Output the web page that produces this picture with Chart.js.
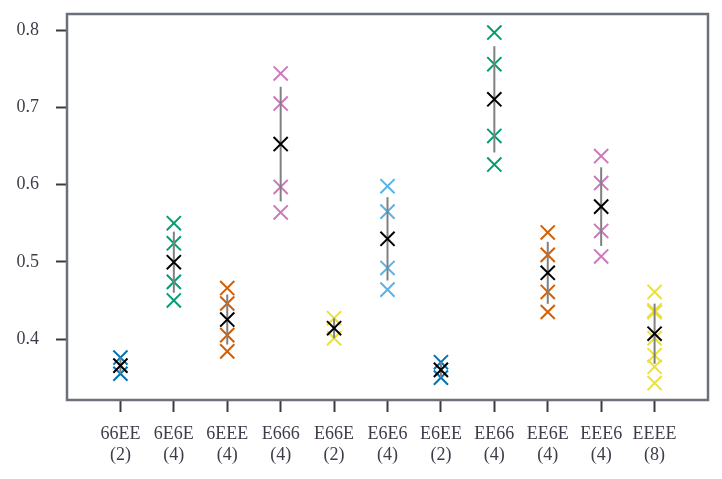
<!DOCTYPE html>
<html>
<head>
<meta charset="utf-8">
<script src="https://cdn.jsdelivr.net/npm/chart.js@4"></script>
<style>
  body { margin: 0; background: #fff; }
  #wrap { width: 722px; height: 479px; }
</style>
</head>
<body>
<div id="wrap"><canvas id="chart" width="722" height="479"></canvas></div>
<script>
const categories = ["66EE", "6E6E", "6EEE", "E666", "E66E", "E6E6", "E6EE", "EE66", "EE6E", "EEE6", "EEEE"];

const v66EE = [0.376, 0.355];
const v6E6E = [0.550, 0.524, 0.474, 0.450];
const v6EEE = [0.466, 0.446, 0.405, 0.384];
const vE666 = [0.744, 0.705, 0.597, 0.564];
const vE66E = [0.427, 0.401];
const vE6E6 = [0.598, 0.565, 0.492, 0.464];
const vE6EE = [0.370, 0.350];
const vEE66 = [0.797, 0.756, 0.663, 0.626];
const vEE6E = [0.538, 0.509, 0.461, 0.435];
const vEEE6 = [0.637, 0.602, 0.540, 0.507];
const vEEEE = [0.461, 0.437, 0.435, 0.435, 0.401, 0.379, 0.364, 0.343];

const yTicks = [0.4, 0.5, 0.6, 0.7, 0.8];

const groups = [v66EE, v6E6E, v6EEE, vE666, vE66E, vE6E6, vE6EE, vEE66, vEE6E, vEEE6, vEEEE];
const colors = ["#0173b2", "#029e73", "#d55e00", "#cc78bc", "#ece133", "#56b4e9",
                "#0173b2", "#029e73", "#d55e00", "#cc78bc", "#ece133"];

const mean = (a) => a.reduce((s, v) => s + v, 0) / a.length;
const std = (a) => {
  const m = mean(a);
  return Math.sqrt(a.reduce((s, v) => s + (v - m) * (v - m), 0) / a.length);
};

const textColor = "#3d3d4a";
const font = { family: "'Liberation Serif', 'Times New Roman', serif", size: 18, lineHeight: 1.17 };

const datasets = [];

// individual runs
groups.forEach((g, i) => {
  datasets.push({
    data: g.map((v) => ({ x: i, y: v })),
    pointStyle: "crossRot",
    pointRadius: 10,
    pointBorderWidth: 2,
    borderColor: colors[i],
    backgroundColor: colors[i],
    order: 3,
  });
});

// error bars (mean +/- std)
groups.forEach((g, i) => {
  const m = mean(g), s = std(g);
  datasets.push({
    data: [{ x: i, y: m - s }, { x: i, y: m + s }],
    showLine: true,
    borderColor: "#808080",
    borderWidth: 2,
    pointRadius: 0,
    order: 2,
  });
});

// means
datasets.push({
  data: groups.map((g, i) => ({ x: i, y: mean(g) })),
  pointStyle: "crossRot",
  pointRadius: 10,
  pointBorderWidth: 2,
  borderColor: "#000000",
  backgroundColor: "#000000",
  order: 1,
});

const frame = {
  id: "frame",
  afterDraw(chart) {
    const { ctx, chartArea: a } = chart;
    ctx.save();
    ctx.strokeStyle = "#6b7079";
    ctx.lineWidth = 2.5;
    ctx.strokeRect(a.left, a.top, a.right - a.left, a.bottom - a.top);
    ctx.restore();
  },
};

new Chart(document.getElementById("chart").getContext("2d"), {
  type: "scatter",
  data: { datasets: datasets },
  options: {
    responsive: false,
    animation: false,
    layout: { padding: { left: 0, right: 14, top: 14, bottom: 0 } },
    plugins: { legend: { display: false }, tooltip: { enabled: false } },
    scales: {
      x: {
        type: "linear",
        min: -1,
        max: 11,
        afterBuildTicks: (axis) => {
          axis.ticks = categories.map((c, i) => ({ value: i }));
        },
        afterFit: (scale) => {
          scale.height = 79;
          scale.paddingLeft = 0;
          scale.paddingRight = 0;
        },
        border: { display: false },
        grid: { drawOnChartArea: false, drawTicks: true, tickLength: 12, tickWidth: 2, tickColor: "#3a3a45" },
        ticks: {
          color: textColor,
          font: font,
          padding: 12,
          maxRotation: 0,
          autoSkip: false,
          callback: (v) => [categories[v], "(" + groups[v].length + ")"],
        },
      },
      y: {
        min: 0.321,
        max: 0.821,
        afterBuildTicks: (axis) => {
          axis.ticks = yTicks.map((v) => ({ value: v }));
        },
        afterFit: (scale) => {
          scale.width = 67;
          scale.paddingTop = 0;
          scale.paddingBottom = 0;
        },
        border: { display: false },
        grid: { drawOnChartArea: false, drawTicks: true, tickLength: 11, tickWidth: 2, tickColor: "#3a3a45" },
        ticks: {
          color: textColor,
          font: font,
          padding: 17,
          callback: (v) => v.toFixed(1),
        },
      },
    },
  },
  plugins: [frame],
});
</script>
</body>
</html>
